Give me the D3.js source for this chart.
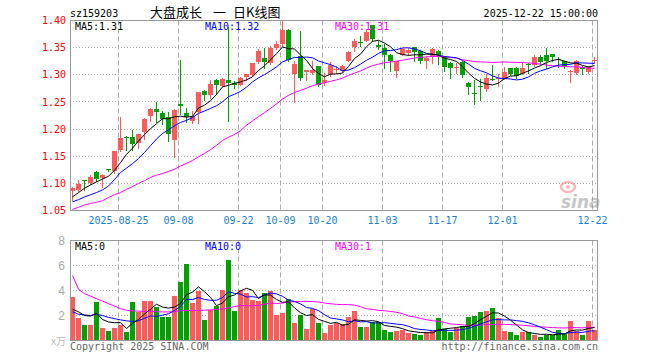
<!DOCTYPE html>
<html>
<head>
<meta charset="utf-8">
<script src="https://cdn.jsdelivr.net/npm/d3@7"></script>
<style>
  body { margin: 0; background: #fff; }
  svg { display: block; }
</style>
</head>
<body>
<script>
const dates = [
  "08-13","08-14","08-15","08-18","08-19","08-20","08-21","08-22","08-25","08-26","08-27","08-28","08-29",
  "09-01","09-02","09-03","09-04","09-05","09-08","09-09","09-10","09-11","09-12","09-15","09-16","09-17","09-18","09-19","09-22","09-23","09-24","09-25","09-26","09-29","09-30",
  "10-09","10-10","10-13","10-14","10-15","10-16","10-17","10-20","10-21","10-22","10-23","10-24","10-27","10-28","10-29","10-30","10-31",
  "11-03","11-04","11-05","11-06","11-07","11-10","11-11","11-12","11-13","11-14","11-17","11-18","11-19","11-20","11-21","11-24","11-25","11-26","11-27","11-28",
  "12-01","12-02","12-03","12-04","12-05","12-08","12-09","12-10","12-11","12-12","12-15","12-16","12-17","12-18","12-19","12-22"
];

const open = [
  1.086,1.087,1.106,1.100,1.120,1.110,1.126,1.122,1.161,1.186,
  1.186,1.175,1.194,1.224,1.237,1.229,1.222,1.180,1.246,1.229,
  1.215,1.232,1.271,1.262,1.291,1.280,1.291,1.285,1.282,1.296,
  1.299,1.323,1.330,1.322,1.350,1.356,1.383,1.301,1.334,1.306,
  1.304,1.316,1.285,1.301,1.309,1.307,1.326,1.352,1.360,1.363,
  1.391,1.354,1.350,1.336,1.307,1.337,1.341,1.351,1.343,1.325,
  1.332,1.343,1.332,1.322,1.312,1.324,1.285,1.266,1.280,1.273,
  1.292,1.294,1.294,1.312,1.313,1.302,1.320,1.318,1.332,1.337,
  1.339,1.329,1.325,1.306,1.304,1.314,1.306,1.327
];
const high = [
  1.094,1.106,1.107,1.115,1.122,1.117,1.127,1.159,1.222,1.188,
  1.198,1.191,1.220,1.238,1.250,1.233,1.231,1.237,1.327,1.239,
  1.233,1.269,1.272,1.291,1.292,1.294,1.388,1.288,1.296,1.302,
  1.322,1.348,1.350,1.353,1.362,1.399,1.385,1.325,1.380,1.308,
  1.325,1.316,1.304,1.324,1.316,1.318,1.343,1.365,1.372,1.383,
  1.391,1.362,1.356,1.339,1.326,1.350,1.350,1.352,1.345,1.334,
  1.350,1.345,1.334,1.323,1.322,1.325,1.286,1.291,1.293,1.302,
  1.318,1.301,1.314,1.313,1.314,1.322,1.322,1.337,1.336,1.350,
  1.339,1.332,1.326,1.308,1.327,1.316,1.316,1.332
];
const low = [
  1.070,1.086,1.087,1.098,1.104,1.093,1.122,1.119,1.159,1.162,
  1.161,1.166,1.181,1.215,1.213,1.210,1.178,1.149,1.227,1.213,
  1.212,1.212,1.253,1.258,1.265,1.279,1.215,1.275,1.281,1.291,
  1.297,1.322,1.313,1.320,1.348,1.353,1.325,1.250,1.291,1.291,
  1.301,1.279,1.282,1.297,1.304,1.305,1.325,1.343,1.353,1.362,
  1.363,1.348,1.313,1.307,1.296,1.336,1.336,1.326,1.322,1.313,
  1.322,1.319,1.307,1.294,1.304,1.296,1.264,1.247,1.253,1.271,
  1.290,1.280,1.293,1.299,1.294,1.301,1.304,1.316,1.319,1.313,
  1.325,1.314,1.312,1.286,1.302,1.302,1.304,1.322
];
const close = [
  1.091,1.098,1.105,1.112,1.108,1.116,1.125,1.159,1.183,1.184,
  1.173,1.191,1.218,1.237,1.231,1.218,1.191,1.236,1.242,1.223,
  1.224,1.269,1.262,1.283,1.281,1.293,1.284,1.281,1.294,1.301,
  1.321,1.343,1.323,1.350,1.357,1.383,1.328,1.320,1.294,1.308,
  1.308,1.282,1.290,1.318,1.310,1.316,1.342,1.363,1.359,1.379,
  1.365,1.352,1.337,1.325,1.325,1.347,1.345,1.342,1.325,1.331,
  1.347,1.336,1.314,1.312,1.314,1.299,1.277,1.265,1.279,1.294,
  1.291,1.295,1.306,1.302,1.297,1.313,1.318,1.332,1.324,1.326,
  1.332,1.328,1.316,1.307,1.325,1.310,1.314,1.328
];
const volume = [
  3.52,1.79,1.28,1.28,3.07,0.99,0.80,0.99,1.28,0.72,
  3.07,2.32,3.20,3.20,2.72,1.92,1.92,3.60,4.72,6.13,
  2.99,4.00,1.68,2.45,2.80,4.08,6.48,2.40,4.08,3.84,
  3.28,3.20,3.84,4.00,2.08,2.19,3.33,1.44,2.08,0.96,
  2.53,1.44,0.64,1.28,1.39,1.33,1.87,2.40,1.07,1.12,
  1.47,1.47,0.88,0.72,0.80,0.88,0.59,0.53,0.40,0.72,
  0.80,1.79,0.93,0.67,0.99,1.20,1.87,2.00,2.27,2.35,
  2.59,1.79,0.75,0.67,0.40,0.67,0.67,0.40,0.32,0.45,
  0.45,0.88,0.53,1.55,0.80,0.40,1.55,0.88
];

// averages for the first days, before the window is full
const ma5Head = [1.075,1.083,1.091,1.097];
const ma10Head = [1.066,1.070,1.075,1.079,1.083,1.088,1.095,1.107,1.120];
const ma30Head = [1.052,1.056,1.060,1.063,1.065,1.068,1.074,1.079,1.083,1.089,
  1.094,1.100,1.105,1.111,1.115,1.118,1.122,1.126,1.132,1.137,
  1.142,1.149,1.155,1.162,1.170,1.179,1.185,1.190,1.197];
const volMa5Head = [2.5,2.3,2.0,1.95];
const volMa10Head = [2.3,2.1,2.05,2.0,2.1,2.0,1.85,1.75,1.65];
const volMa30Head = [5.2,4.1,3.75,3.55,3.35,3.15,2.95,2.75,2.55,2.42,
  2.37,2.35,2.33,2.32,2.31,2.29,2.28,2.32,2.38,2.4,
  2.4,2.4,2.42,2.45,2.48,2.52,2.6,2.72,2.8];

const priceTicks = [1.05,1.10,1.15,1.20,1.25,1.30,1.35,1.40];
const volTicks = [2,4,6,8];
const dateTicks = ["08-25","09-08","09-22","10-09","10-20","11-03","11-17","12-01","12-22"];
const dateTickLabels = ["2025-08-25","09-08","09-22","10-09","10-20","11-03","11-17","12-01","12-22"];
const maLabels = ["MA5:1.31","MA10:1.32","MA30:1.31"];
const volMaLabels = ["MA5:0","MA10:0","MA30:1"];
const maColors = ["#000000","#0000ff","#ff00ff"];

const width = 660, height = 360;
const left = 70, right = 598;
const red = "#ff5b5b", green = "#00a000";
const mono = "'DejaVu Sans Mono', monospace";

function movingAvg(values, n, head) {
  return values.map((v, i) => i < n - 1 ? head[i] : d3.mean(values.slice(i - n + 1, i + 1)));
}

const svg = d3.select("body")
  .append("svg")
  .attr("width", width)
  .attr("height", height)
  .style("font-family", mono);

const x = d3.scaleBand()
  .domain(d3.range(dates.length))
  .range([left, right])
  .paddingInner(1 / 6)
  .paddingOuter(1 / 12)
  .align(0);
const y = d3.scaleLinear().domain([1.05, 1.40]).range([210.5, 20.5]);
const yv = d3.scaleLinear().domain([0, 8]).range([340.5, 240.5]);

//Grid lines
const grid = svg.append("g");
grid.selectAll("line.h")
  .data(priceTicks.slice(1, -1))
  .enter()
  .append("line")
  .attr("x1", left).attr("x2", right - 1)
  .attr("y1", d => Math.floor(y(d)) + 0.5).attr("y2", d => Math.floor(y(d)) + 0.5)
  .attr("stroke", "#aaa").attr("stroke-dasharray", "1,2");
grid.selectAll("line.hv")
  .data(volTicks.slice(0, -1))
  .enter()
  .append("line")
  .attr("x1", left).attr("x2", right - 1)
  .attr("y1", d => Math.floor(yv(d)) + 0.5).attr("y2", d => Math.floor(yv(d)) + 0.5)
  .attr("stroke", "#aaa").attr("stroke-dasharray", "1,2");
[[20.5, 210.5], [240.5, 340.5]].forEach(([y1, y2]) => {
  grid.selectAll(null)
    .data(dateTicks)
    .enter()
    .append("line")
    .attr("x1", d => x(dates.indexOf(d)) + 0.5).attr("x2", d => x(dates.indexOf(d)) + 0.5)
    .attr("y1", y1).attr("y2", y2)
    .attr("stroke", "#aaa").attr("stroke-dasharray", "5,3");
});

//Watermark
const wm = svg.append("g").attr("opacity", 0.55);
wm.append("ellipse").attr("cx", 568).attr("cy", 187).attr("rx", 7).attr("ry", 5)
  .attr("fill", "none").attr("stroke", "#f08080").attr("stroke-width", 2.5);
wm.append("circle").attr("cx", 568).attr("cy", 187).attr("r", 2).attr("fill", "#f08080");
wm.append("text").attr("x", 561).attr("y", 208)
  .attr("font-family", "'DejaVu Sans', sans-serif").attr("font-size", 17)
  .attr("font-style", "italic").attr("font-weight", "bold")
  .attr("fill", "#999").text("sina");

//Candles
const candles = svg.append("g").attr("shape-rendering", "crispEdges");
const idx = d3.range(dates.length);
const col = i => close[i] >= open[i] ? red : green;
candles.selectAll("line")
  .data(idx)
  .enter()
  .append("line")
  .attr("x1", i => x(i) + 2.5).attr("x2", i => x(i) + 2.5)
  .attr("y1", i => Math.round(y(high[i]))).attr("y2", i => Math.round(y(low[i])) + 1)
  .attr("stroke", col);
candles.selectAll("rect")
  .data(idx)
  .enter()
  .append("rect")
  .attr("x", i => x(i))
  .attr("width", x.bandwidth())
  .attr("y", i => Math.round(y(Math.max(open[i], close[i]))))
  .attr("height", i => Math.max(1, Math.round(y(Math.min(open[i], close[i]))) - Math.round(y(Math.max(open[i], close[i])))))
  .attr("fill", col);

//Volume bars
svg.append("g").attr("shape-rendering", "crispEdges")
  .selectAll("rect")
  .data(idx)
  .enter()
  .append("rect")
  .attr("x", i => x(i))
  .attr("width", x.bandwidth())
  .attr("y", i => Math.round(yv(volume[i])))
  .attr("height", i => 340 - Math.round(yv(volume[i])))
  .attr("fill", col);

//Moving averages
const priceMa = [movingAvg(close, 5, ma5Head), movingAvg(close, 10, ma10Head), movingAvg(close, 30, ma30Head)];
const volMa = [movingAvg(volume, 5, volMa5Head), movingAvg(volume, 10, volMa10Head), movingAvg(volume, 30, volMa30Head)];
const priceLine = d3.line().x((d, i) => x(i) + 2.5).y(d => y(d));
const volLine = d3.line().x((d, i) => x(i) + 2.5).y(d => yv(d));
[2, 1, 0].forEach(k => {
  svg.append("path").attr("d", priceLine(priceMa[k]))
    .attr("fill", "none").attr("stroke", maColors[k]).attr("stroke-width", 1);
  svg.append("path").attr("d", volLine(volMa[k]))
    .attr("fill", "none").attr("stroke", maColors[k]).attr("stroke-width", 1);
});

//Frames
svg.append("rect").attr("x", left + 0.5).attr("y", 20.5).attr("width", right - left - 1).attr("height", 190)
  .attr("fill", "none").attr("stroke", "#999");
svg.append("rect").attr("x", left + 0.5).attr("y", 240.5).attr("width", right - left - 1).attr("height", 100)
  .attr("fill", "none").attr("stroke", "#999");

//Axes
const yAxis = svg.append("g")
  .attr("transform", `translate(${left},0)`)
  .call(d3.axisLeft(y).tickValues(priceTicks).tickSize(0).tickPadding(4).tickFormat(d3.format(".2f")));
yAxis.select(".domain").remove();
yAxis.selectAll("text").attr("fill", "#ff0000").attr("font-family", mono).attr("font-size", 10);

const xAxis = svg.append("g")
  .attr("transform", "translate(-2,211)")
  .call(d3.axisBottom(x).tickValues(dateTicks.map(d => dates.indexOf(d))).tickSize(0).tickPadding(6)
    .tickFormat(i => dateTickLabels[dateTicks.indexOf(dates[i])]));
xAxis.select(".domain").remove();
xAxis.selectAll("text").attr("fill", "#1a7fd0").attr("font-family", mono).attr("font-size", 10);

const vAxis = svg.append("g")
  .attr("transform", `translate(${left},0)`)
  .call(d3.axisLeft(yv).tickValues(volTicks).tickSize(0).tickPadding(5));
vAxis.select(".domain").remove();
vAxis.selectAll("text").attr("fill", "#aaa").attr("font-family", "'Liberation Sans', sans-serif").attr("font-size", 12);

//Texts
svg.append("text").attr("x", 70).attr("y", 17).attr("font-size", 10).attr("fill", "#000").text("sz159203");
const title = svg.append("text").attr("y", 17)
  .attr("font-family", "'Noto Sans CJK SC', sans-serif").attr("font-size", 13).attr("fill", "#000");
title.append("tspan").attr("x", 150).text("大盘成长");
title.append("tspan").attr("x", 213).text("一");
title.append("tspan").attr("x", 233).text("日K线图");
svg.append("text").attr("x", 598).attr("y", 17).attr("text-anchor", "end")
  .attr("font-size", 10).attr("fill", "#000").text("2025-12-22 15:00:00");

const labelX = [75, 205, 335];
maLabels.forEach((t, k) => {
  svg.append("text").attr("x", labelX[k]).attr("y", 30).attr("font-size", 10).attr("fill", maColors[k]).text(t);
});
volMaLabels.forEach((t, k) => {
  svg.append("text").attr("x", labelX[k]).attr("y", 250).attr("font-size", 10).attr("fill", maColors[k]).text(t);
});

svg.append("text").attr("x", 66).attr("y", 345).attr("text-anchor", "end")
  .attr("font-family", "'Noto Sans CJK SC', sans-serif").attr("font-size", 10).attr("fill", "#bbb").text("x万");
svg.append("text").attr("x", 70).attr("y", 350).attr("font-size", 10).attr("fill", "#666").text("Copyright 2025 SINA.COM");
svg.append("text").attr("x", 598).attr("y", 350).attr("text-anchor", "end")
  .attr("font-size", 10).attr("fill", "#666").text("http://finance.sina.com.cn");
</script>
</body>
</html>
